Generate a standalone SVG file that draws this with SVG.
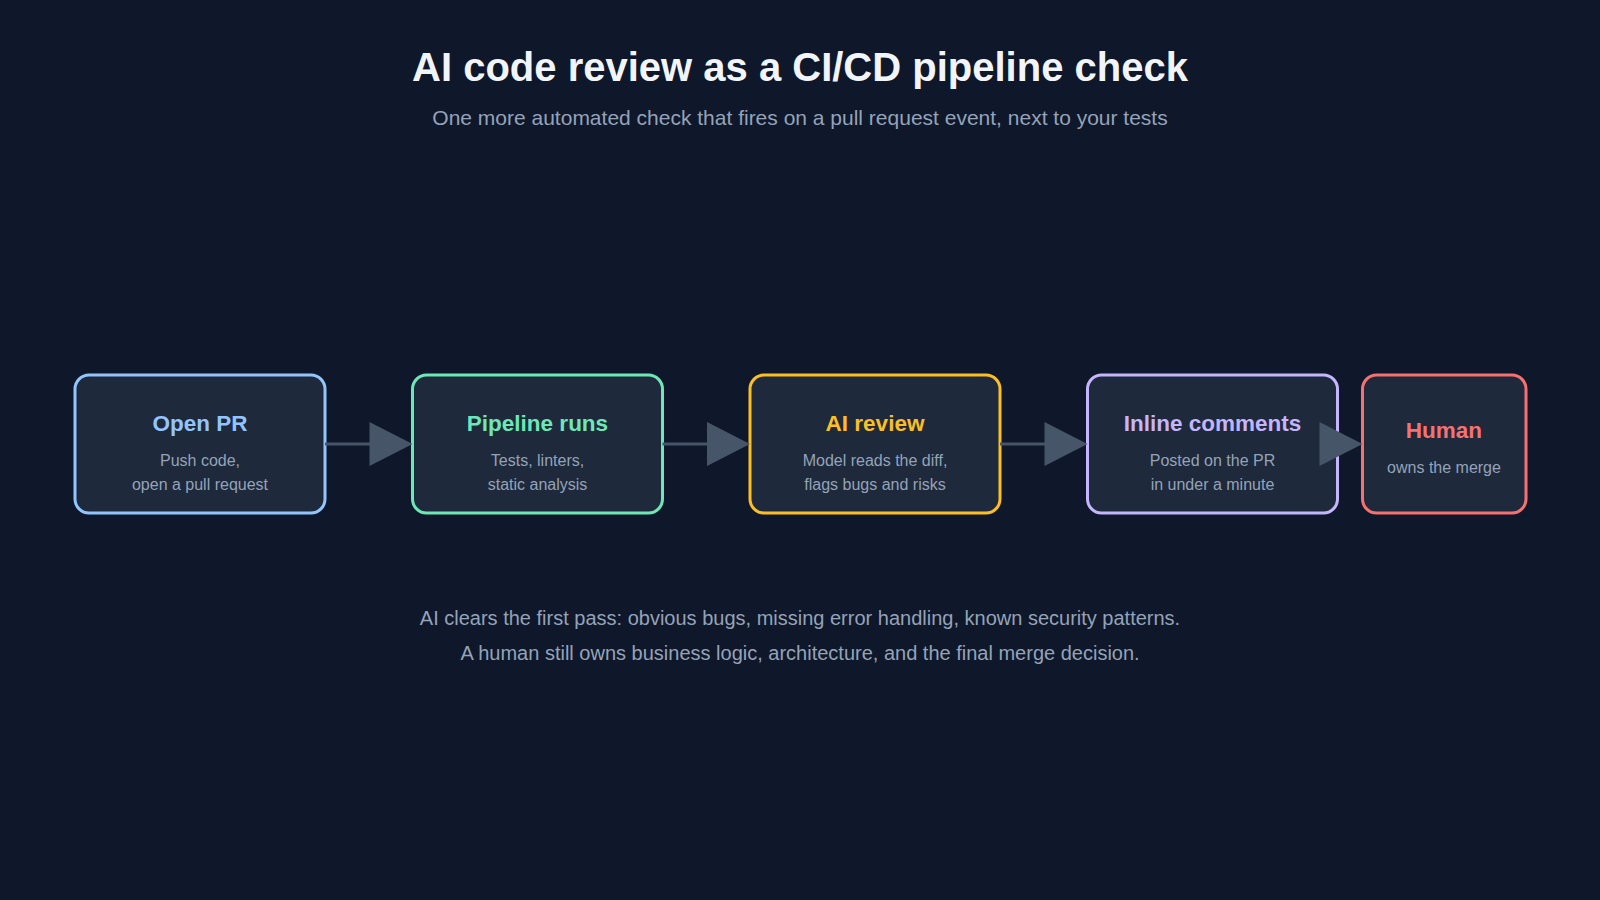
<svg xmlns="http://www.w3.org/2000/svg" width="1600" height="900" viewBox="0 0 1600 900">
<style>
.bg{fill:#0f172a}
.box{fill:#1e293b;stroke-width:3}
.t{font-family:"Liberation Sans",Arial,sans-serif;font-weight:bold;font-size:22.5px;text-anchor:middle}
.s{font-family:"Liberation Sans",Arial,sans-serif;font-size:16px;fill:#94a3b8;text-anchor:middle}
.title{font-family:"Liberation Sans",Arial,sans-serif;font-weight:bold;font-size:40px;fill:#f1f5f9;text-anchor:middle}
.sub{font-family:"Liberation Sans",Arial,sans-serif;font-size:21px;fill:#94a3b8;text-anchor:middle}
.note{font-family:"Liberation Sans",Arial,sans-serif;font-size:20px;fill:#94a3b8;text-anchor:middle}
.edge{stroke:#475569;stroke-width:3;fill:none}
.head{fill:#475569}
</style>
<rect class="bg" x="0" y="0" width="1600" height="900"/>
<text class="title" x="800" y="81">AI code review as a CI/CD pipeline check</text>
<text class="sub" x="800" y="125">One more automated check that fires on a pull request event, next to your tests</text>

<g id="node-open-pr">
<rect class="box" x="75" y="375" width="250" height="138" rx="14" stroke="#93c5fd"/>
<text class="t" x="200" y="431" fill="#93c5fd">Open PR</text>
<text class="s" x="200" y="466">Push code,</text>
<text class="s" x="200" y="490">open a pull request</text>
</g>
<g id="node-pipeline">
<rect class="box" x="412.5" y="375" width="250" height="138" rx="14" stroke="#6ee7b7"/>
<text class="t" x="537.5" y="431" fill="#6ee7b7">Pipeline runs</text>
<text class="s" x="537.5" y="466">Tests, linters,</text>
<text class="s" x="537.5" y="490">static analysis</text>
</g>
<g id="node-ai-review">
<rect class="box" x="750" y="375" width="250" height="138" rx="14" stroke="#fbbf24"/>
<text class="t" x="875" y="431" fill="#fbbf24">AI review</text>
<text class="s" x="875" y="466">Model reads the diff,</text>
<text class="s" x="875" y="490">flags bugs and risks</text>
</g>
<g id="node-inline">
<rect class="box" x="1087.5" y="375" width="250" height="138" rx="14" stroke="#c4b5fd"/>
<text class="t" x="1212.5" y="431" fill="#c4b5fd">Inline comments</text>
<text class="s" x="1212.5" y="466">Posted on the PR</text>
<text class="s" x="1212.5" y="490">in under a minute</text>
</g>
<g id="node-human">
<rect class="box" x="1362.5" y="375" width="163.5" height="138" rx="14" stroke="#f87171"/>
<text class="t" x="1444" y="438" fill="#f87171">Human</text>
<text class="s" x="1444" y="473">owns the merge</text>
</g>

<g id="connectors">
<line class="edge" x1="325" y1="444" x2="372" y2="444"/>
<polygon class="head" points="369.5,422 412.5,444 369.5,466"/>
<line class="edge" x1="662.5" y1="444" x2="709" y2="444"/>
<polygon class="head" points="707,422 750,444 707,466"/>
<line class="edge" x1="1000" y1="444" x2="1046" y2="444"/>
<polygon class="head" points="1044.5,422 1087.5,444 1044.5,466"/>
<line class="edge" x1="1337.5" y1="444" x2="1340" y2="444"/>
<polygon class="head" points="1319.5,422 1362.5,444 1319.5,466"/>
</g>

<text class="note" x="800" y="625">AI clears the first pass: obvious bugs, missing error handling, known security patterns.</text>
<text class="note" x="800" y="660">A human still owns business logic, architecture, and the final merge decision.</text>
</svg>
